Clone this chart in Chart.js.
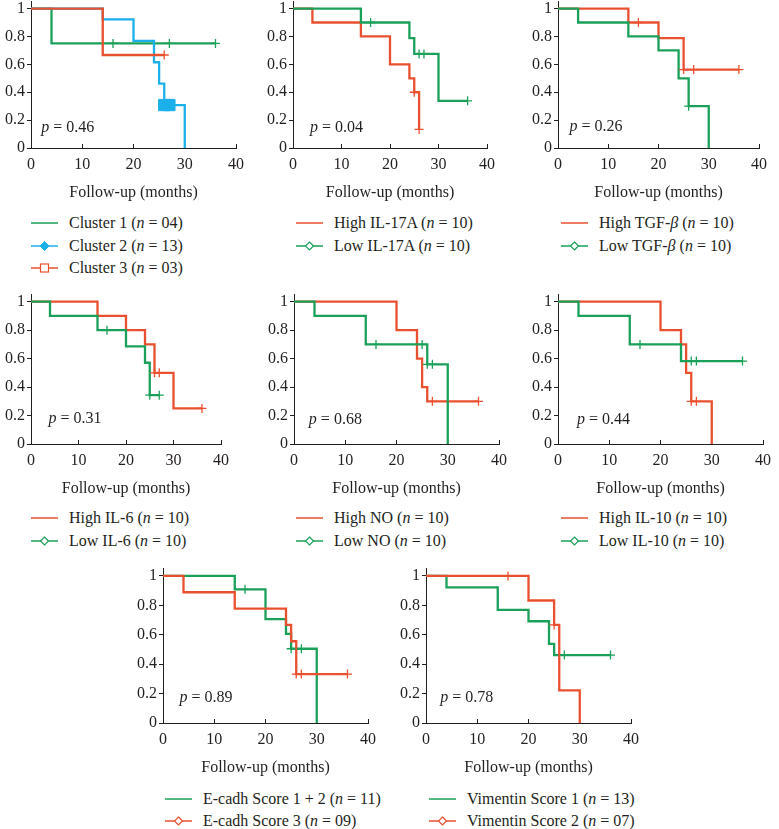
<!DOCTYPE html>
<html>
<head>
<meta charset="utf-8">
<script src="https://cdn.jsdelivr.net/npm/chart.js@4.4.0/dist/chart.umd.min.js"></script>
<style>
  body { margin: 0; background: #fff; width: 779px; height: 829px; overflow: hidden; position: relative;
         font-family: "Liberation Serif", "Times New Roman", serif; color: #231f20; }
  canvas { position: absolute; }
  .leg { position: absolute; font-size: 16px; white-space: nowrap; display: flex; align-items: center;
         height: 20px; margin-top: -10px; }
  .leg svg { margin-right: 11px; flex: none; }
</style>
</head>
<body>
<script>
const FONT = '"Liberation Serif", "Times New Roman", serif';
const INK = '#231f20';
const RED = '#e9502f', GREEN = '#1ba05a', BLUE = '#1cb0ea';

// axes
const xTickValues = [0, 10, 20, 30, 40];
const yTickValues = [0, 0.2, 0.4, 0.6, 0.8, 1];
const yTickLabels = ['0', '0.2', '0.4', '0.6', '0.8', '1'];
const pValues = ['0.46', '0.04', '0.26', '0.31', '0.68', '0.44', '0.89', '0.78'];

// clusters
const c1Time = [0, 4, 36], c1Surv = [1, 0.75, 0.75], c1Cens = [16, 27, 36];
const c2Time = [0, 14, 20, 24, 25, 26, 30], c2Surv = [1, 0.923, 0.769, 0.615, 0.462, 0.308, 0], c2Cens = [26, 27];
const c3Time = [0, 14, 26], c3Surv = [1, 0.667, 0.667], c3Cens = [26];

// IL-17A
const hi17Time = [0, 4, 14, 20, 24, 25, 26], hi17Surv = [1, 0.9, 0.8, 0.6, 0.5, 0.4, 0.133], hi17Cens = [25, 26];
const lo17Time = [0, 14, 24, 25, 30, 36], lo17Surv = [1, 0.9, 0.788, 0.675, 0.338, 0.338], lo17Cens = [16, 26, 27, 36];

// TGF-beta
const hiTgfTime = [0, 14, 20, 25, 36], hiTgfSurv = [1, 0.9, 0.788, 0.5625, 0.5625], hiTgfCens = [16, 25, 27, 36];
const loTgfTime = [0, 4, 14, 20, 24, 26, 30], loTgfSurv = [1, 0.9, 0.8, 0.7, 0.5, 0.3, 0], loTgfCens = [26];

// IL-6
const hi6Time = [0, 14, 20, 24, 26, 30, 36], hi6Surv = [1, 0.9, 0.8, 0.7, 0.5, 0.25, 0.25], hi6Cens = [26, 27, 36];
const lo6Time = [0, 4, 14, 20, 24, 25, 27], lo6Surv = [1, 0.9, 0.8, 0.686, 0.571, 0.343, 0.343], lo6Cens = [16, 25, 27];

// NO
const hiNoTime = [0, 20, 24, 25, 26, 36], hiNoSurv = [1, 0.8, 0.6, 0.4, 0.3, 0.3], hiNoCens = [27, 36];
const loNoTime = [0, 4, 14, 26, 30], loNoSurv = [1, 0.9, 0.7, 0.56, 0], loNoCens = [16, 25, 26, 27];

// IL-10
const hi10Time = [0, 20, 24, 25, 26, 30], hi10Surv = [1, 0.8, 0.7, 0.5, 0.3, 0], hi10Cens = [26, 27];
const lo10Time = [0, 4, 14, 24, 36], lo10Surv = [1, 0.9, 0.7, 0.583, 0.583], lo10Cens = [16, 26, 27, 36];

// E-cadherin
const ec12Time = [0, 14, 20, 24, 25, 30], ec12Surv = [1, 0.909, 0.707, 0.606, 0.505, 0], ec12Cens = [16, 25, 27];
const ec3Time = [0, 4, 14, 24, 25, 26, 36], ec3Surv = [1, 0.889, 0.778, 0.667, 0.556, 0.333, 0.333], ec3Cens = [26, 27, 36];

// Vimentin
const vim1Time = [0, 4, 14, 20, 24, 25, 36], vim1Surv = [1, 0.923, 0.769, 0.692, 0.538, 0.462, 0.462], vim1Cens = [27, 36];
const vim2Time = [0, 20, 25, 26, 30], vim2Surv = [1, 0.833, 0.667, 0.222, 0], vim2Cens = [16, 25];

// survival value at time t (after any drop at t)
function survAt(times, surv, t) {
    let v = surv[0];
    for (let i = 0; i < times.length; i++) if (times[i] <= t) v = surv[i];
    return v;
}

function s(label, color, time, surv, cens, order, marker, censStyle) {
    return { label, color, time, surv, cens, order, marker, censStyle };
}

const panels = [
    { x0: 31, x40: 245, y1: 7, y0: 148, p: [2.0, 0.145], legX: 31, legY: [223, 246, 268], series: [
        s('Cluster 1 (<i>n</i> = 04)', GREEN, c1Time, c1Surv, c1Cens, 2, 'none'),
        s('Cluster 2 (<i>n</i> = 13)', BLUE, c2Time, c2Surv, c2Cens, 1, 'fdiamond', 'rect'),
        s('Cluster 3 (<i>n</i> = 03)', RED, c3Time, c3Surv, c3Cens, 0, 'square')] },
    { x0: 293, x40: 496, y1: 7, y0: 148, p: [3.5, 0.145], legX: 296, legY: [223, 246], series: [
        s('High IL-17A (<i>n</i> = 10)', RED, hi17Time, hi17Surv, hi17Cens, 1, 'none'),
        s('Low IL-17A (<i>n</i> = 10)', GREEN, lo17Time, lo17Surv, lo17Cens, 0, 'diamond')] },
    { x0: 558, x40: 768, y1: 7, y0: 148, p: [2.3, 0.155], legX: 561, legY: [223, 246], series: [
        s('High TGF-<i>β</i> (<i>n</i> = 10)', RED, hiTgfTime, hiTgfSurv, hiTgfCens, 1, 'none'),
        s('Low TGF-<i>β</i> (<i>n</i> = 10)', GREEN, loTgfTime, loTgfSurv, loTgfCens, 0, 'diamond')] },
    { x0: 31, x40: 230, y1: 300, y0: 444, p: [3.7, 0.178], legX: 31, legY: [518, 541], series: [
        s('High IL-6 (<i>n</i> = 10)', RED, hi6Time, hi6Surv, hi6Cens, 1, 'none'),
        s('Low IL-6 (<i>n</i> = 10)', GREEN, lo6Time, lo6Surv, lo6Cens, 0, 'diamond')] },
    { x0: 294, x40: 508, y1: 300, y0: 444, p: [2.9, 0.171], legX: 296, legY: [518, 541], series: [
        s('High NO (<i>n</i> = 10)', RED, hiNoTime, hiNoSurv, hiNoCens, 1, 'none'),
        s('Low NO (<i>n</i> = 10)', GREEN, loNoTime, loNoSurv, loNoCens, 0, 'diamond')] },
    { x0: 558, x40: 772, y1: 300, y0: 444, p: [3.7, 0.167], legX: 561, legY: [518, 541], series: [
        s('High IL-10 (<i>n</i> = 10)', RED, hi10Time, hi10Surv, hi10Cens, 1, 'none'),
        s('Low IL-10 (<i>n</i> = 10)', GREEN, lo10Time, lo10Surv, lo10Cens, 0, 'diamond')] },
    { x0: 163, x40: 377, y1: 574, y0: 723, p: [3.2, 0.168], legX: 165, legY: [799, 821], series: [
        s('E-cadh Score 1 + 2 (<i>n</i> = 11)', GREEN, ec12Time, ec12Surv, ec12Cens, 1, 'none'),
        s('E-cadh Score 3 (<i>n</i> = 09)', RED, ec3Time, ec3Surv, ec3Cens, 0, 'diamond')] },
    { x0: 426, x40: 640, y1: 574, y0: 723, p: [2.8, 0.168], legX: 429, legY: [799, 821], series: [
        s('Vimentin Score 1 (<i>n</i> = 13)', GREEN, vim1Time, vim1Surv, vim1Cens, 1, 'none'),
        s('Vimentin Score 2 (<i>n</i> = 07)', RED, vim2Time, vim2Surv, vim2Cens, 0, 'diamond')] }
];

function legendIcon(color, marker) {
    let m = '';
    if (marker === 'diamond') m = `<polygon points="13.5,2 17.5,6 13.5,10 9.5,6" fill="#fff" stroke="${color}" stroke-width="1.2"/>`;
    if (marker === 'fdiamond') m = `<polygon points="13.5,1.5 18,6 13.5,10.5 9,6" fill="${color}" stroke="${color}" stroke-width="1"/>`;
    if (marker === 'square') m = `<rect x="9.5" y="2" width="8" height="8" fill="#fff" stroke="${color}" stroke-width="1.2"/>`;
    return `<svg width="27" height="12"><line x1="0" y1="6" x2="27" y2="6" stroke="${color}" stroke-width="1.5"/>${m}</svg>`;
}

const PAD_TOP = 10, PAD_RIGHT = 10, Y_W = 31, X_H = 56;

panels.forEach((pn, idx) => {
    const H = pn.y0 - pn.y1;
    const areaTop = pn.y1 - H * 0.05;
    const cv = document.createElement('canvas');
    const w = Math.round(Y_W + (pn.x40 - pn.x0) + PAD_RIGHT);
    const h = Math.round(PAD_TOP + (pn.y0 - areaTop) + X_H);
    cv.width = w; cv.height = h;
    cv.style.left = (pn.x0 - Y_W) + 'px';
    cv.style.top = (areaTop - PAD_TOP) + 'px';
    document.body.appendChild(cv);

    const datasets = [];
    pn.series.forEach(sr => {
        datasets.push({
            data: sr.time.map((t, i) => ({ x: t, y: sr.surv[i] })),
            borderColor: sr.color, borderWidth: 2.3, stepped: 'before',
            pointRadius: 0, fill: false, order: sr.order + 1, clip: false
        });
        const rect = sr.censStyle === 'rect';
        datasets.push({
            data: sr.cens.map(t => ({ x: t, y: survAt(sr.time, sr.surv, t) })),
            showLine: false, borderColor: sr.color, backgroundColor: sr.color,
            pointStyle: rect ? 'rect' : 'cross', pointRadius: rect ? 8 : 4.5,
            pointBorderWidth: rect ? 1 : 1.3, order: 0, clip: false
        });
    });

    const pLabel = {
        id: 'pLabel',
        afterDatasetsDraw(chart) {
            const ctx = chart.ctx;
            const px = chart.scales.x.getPixelForValue(pn.p[0]);
            const py = chart.scales.y.getPixelForValue(pn.p[1]);
            ctx.save();
            ctx.fillStyle = INK;
            ctx.textBaseline = 'middle';
            ctx.font = 'italic 16px ' + FONT;
            ctx.fillText('p', px, py);
            const wp = ctx.measureText('p').width;
            ctx.font = '16px ' + FONT;
            ctx.fillText(' = ' + pValues[idx], px + wp, py);
            ctx.restore();
        }
    };

    new Chart(cv, {
        type: 'line',
        data: { datasets },
        plugins: [pLabel],
        options: {
            responsive: false, animation: false, devicePixelRatio: 1,
            layout: { padding: { top: PAD_TOP, right: PAD_RIGHT, left: 0, bottom: 0 } },
            plugins: { legend: { display: false }, tooltip: { enabled: false } },
            scales: {
                x: {
                    type: 'linear', min: 0, max: 40,
                    afterBuildTicks: sc => { sc.ticks = xTickValues.map(v => ({ value: v })); },
                    afterFit: sc => { sc.height = X_H; },
                    grid: { drawOnChartArea: false, tickLength: -4, color: INK, lineWidth: 1 },
                    border: { color: INK, width: 1 },
                    ticks: { color: INK, padding: 11, font: { family: FONT, size: 16 } },
                    title: { display: true, text: 'Follow-up (months)', color: INK,
                             font: { family: FONT, size: 16 }, padding: { top: 0, bottom: 2 } }
                },
                y: {
                    type: 'linear', min: 0, max: 1.05,
                    afterBuildTicks: sc => { sc.ticks = yTickValues.map(v => ({ value: v })); },
                    afterFit: sc => { sc.width = Y_W; },
                    grid: { drawOnChartArea: false, tickLength: 4, color: INK, lineWidth: 1 },
                    border: { color: INK, width: 1 },
                    ticks: { color: INK, padding: 2, font: { family: FONT, size: 16 },
                             callback: (v, i) => yTickLabels[i] }
                }
            }
        }
    });

    pn.series.forEach((sr, k) => {
        const d = document.createElement('div');
        d.className = 'leg';
        d.style.left = pn.legX + 'px';
        d.style.top = pn.legY[k] + 'px';
        d.innerHTML = legendIcon(sr.color, sr.marker) + '<span>' + sr.label + '</span>';
        document.body.appendChild(d);
    });
});
</script>
</body>
</html>
